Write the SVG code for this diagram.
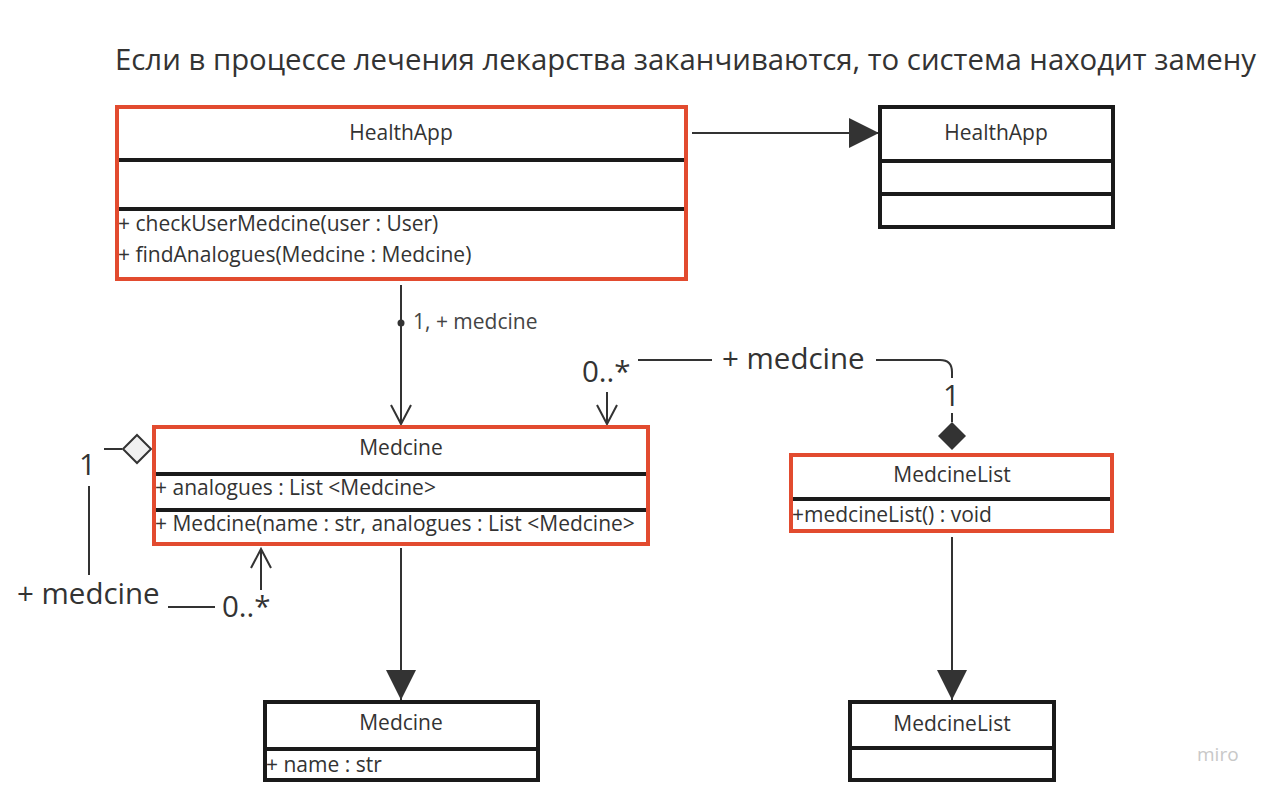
<svg xmlns="http://www.w3.org/2000/svg" width="1264" height="790" viewBox="0 0 1264 790">
<style>
text{font-family:"Open Sans","Liberation Sans",sans-serif;fill:#333}
.t{font-size:21px}
.m{font-size:21px}
.big{font-size:29.5px}
.red{fill:#fff;stroke:#e24b2f;stroke-width:4}
.blk{fill:#fff;stroke:#1a1a1a;stroke-width:4}
.div{stroke:#1a1a1a;stroke-width:4}
.ln{stroke:#333;stroke-width:2;fill:none}
</style>
<defs>
<marker id="tri" markerWidth="32" markerHeight="32" refX="30" refY="15" orient="auto" markerUnits="userSpaceOnUse">
<path d="M0,0 L30,15 L0,30 Z" fill="#333"/>
</marker>
<marker id="open" markerWidth="24" markerHeight="24" refX="20" refY="11" orient="auto" markerUnits="userSpaceOnUse">
<path d="M1,1 L20,11 L1,21" fill="none" stroke="#333" stroke-width="2"/>
</marker>
</defs>
<rect width="1264" height="790" fill="#fff"/>
<text x="115" y="70" class="big" textLength="1141" lengthAdjust="spacingAndGlyphs">Если в процессе лечения лекарства заканчиваются, то система находит замену</text>

<g id="connectors">
<line x1="692" y1="133" x2="879" y2="133" class="ln" marker-end="url(#tri)"/>
<line x1="401" y1="285" x2="401" y2="424" class="ln" marker-end="url(#open)"/>
<circle cx="401" cy="323" r="3.5" fill="#333"/>
<text x="413" y="329" style="font-size:21px;fill:#444">1, + medcine</text>
<line x1="607" y1="392" x2="607" y2="424" class="ln" marker-end="url(#open)"/>
<text x="582" y="382" class="big">0..*</text>
<line x1="638" y1="360" x2="712" y2="360" class="ln"/>
<text x="722" y="369" class="big">+ medcine</text>
<path d="M876,360 H940 Q952,360 952,372 V378" class="ln"/>
<text x="943" y="406" class="big">1</text>
<line x1="952" y1="413" x2="952" y2="422" class="ln"/>
<path d="M952,422 L966,436 L952,450 L938,436 Z" fill="#333"/>
<line x1="104" y1="449" x2="122" y2="449" class="ln"/>
<path d="M137,435 L151,449 L137,463 L123,449 Z" fill="#f0f0f0" stroke="#333" stroke-width="2"/>
<text x="79" y="475" class="big">1</text>
<line x1="89" y1="486" x2="89" y2="575" class="ln"/>
<text x="17" y="604" class="big">+ medcine</text>
<line x1="168" y1="607" x2="215" y2="607" class="ln"/>
<text x="222" y="617" class="big">0..*</text>
<line x1="261" y1="590" x2="261" y2="549" class="ln" marker-end="url(#open)"/>
<line x1="401" y1="548" x2="401" y2="700" class="ln" marker-end="url(#tri)"/>
<line x1="952" y1="537" x2="952" y2="700" class="ln" marker-end="url(#tri)"/>
</g>

<g id="healthapp-main">
<rect x="117" y="107" width="569" height="172" class="red"/>
<line x1="119" y1="160" x2="684" y2="160" class="div"/>
<line x1="119" y1="209" x2="684" y2="209" class="div"/>
<text x="401" y="140" class="t" text-anchor="middle">HealthApp</text>
<text x="118" y="231" class="m">+ checkUserMedcine(user : User)</text>
<text x="118" y="262" class="m">+ findAnalogues(Medcine : Medcine)</text>
</g>

<g id="healthapp-right">
<rect x="880" y="107" width="233" height="120" class="blk"/>
<line x1="880" y1="161" x2="1113" y2="161" class="div"/>
<line x1="880" y1="194" x2="1113" y2="194" class="div"/>
<text x="996" y="140" class="t" text-anchor="middle">HealthApp</text>
</g>

<g id="medcine-main">
<rect x="154" y="427" width="494" height="117" class="red"/>
<line x1="156" y1="474" x2="646" y2="474" class="div"/>
<line x1="156" y1="510" x2="646" y2="510" class="div"/>
<text x="401" y="455" class="t" text-anchor="middle">Medcine</text>
<text x="155" y="495" class="m">+ analogues : List &lt;Medcine&gt;</text>
<text x="155" y="531" class="m">+ Medcine(name : str, analogues : List &lt;Medcine&gt;</text>
</g>

<g id="medcinelist-main">
<rect x="791" y="455" width="321" height="76" class="red"/>
<line x1="793" y1="499" x2="1110" y2="499" class="div"/>
<text x="952" y="482" class="t" text-anchor="middle">MedcineList</text>
<text x="792" y="522" class="m">+medcineList() : void</text>
</g>

<g id="medcine-bottom">
<rect x="265" y="702" width="273" height="78" class="blk"/>
<line x1="265" y1="749" x2="538" y2="749" class="div"/>
<text x="401" y="730" class="t" text-anchor="middle">Medcine</text>
<text x="266" y="772" class="m">+ name : str</text>
</g>

<g id="medcinelist-bottom">
<rect x="850" y="702" width="204" height="78" class="blk"/>
<line x1="850" y1="748" x2="1054" y2="748" class="div"/>
<text x="952" y="731" class="t" text-anchor="middle">MedcineList</text>
</g>

<text x="1197" y="761" style="font-size:19px;fill:#c8c8c8">miro</text>
</svg>
